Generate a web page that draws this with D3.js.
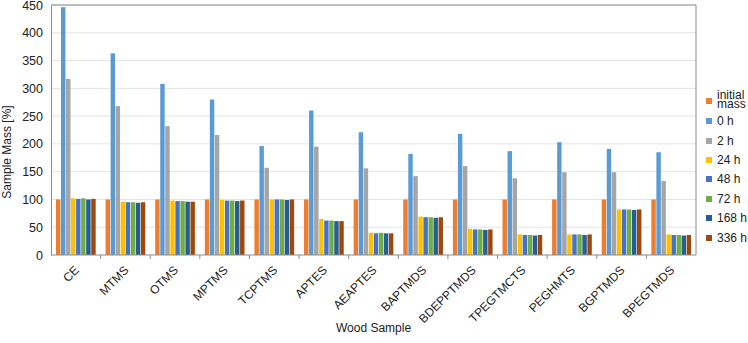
<!DOCTYPE html>
<html>
<head>
<meta charset="utf-8">
<script src="https://cdn.jsdelivr.net/npm/d3@7"></script>
<style>
  body { margin: 0; background: #fff; }
  svg { display: block; font-family: "Liberation Sans", Arial, sans-serif; }
</style>
</head>
<body>
<svg id="chart" width="748" height="343"></svg>
<script>
const samples = ["CE", "MTMS", "OTMS", "MPTMS", "TCPTMS", "APTES", "AEAPTES", "BAPTMDS",
  "BDEPPTMDS", "TPEGTMCTS", "PEGHMTS", "BGPTMDS", "BPEGTMDS"];
const seriesNames = ["initial mass", "0 h", "2 h", "24 h", "48 h", "72 h", "168 h", "336 h"];
const seriesColors = ["#ED7D31", "#5B9BD5", "#A5A5A5", "#FFC000", "#4472C4", "#70AD47", "#255E91", "#9E480E"];

const initialMass = [100, 100, 100, 100, 100, 100, 100, 100, 100, 100, 100, 100, 100];
const h0   = [446, 363, 308, 280, 196, 260, 221, 182, 218, 187, 203, 191, 185];
const h2   = [317, 268, 232, 216, 157, 195, 156, 142, 160, 138, 149, 149, 133];
const h24  = [102, 96, 98, 99, 100, 65, 40, 69, 47, 37, 37, 82, 37];
const h48  = [101, 95, 97, 98, 100, 62, 39, 68, 46, 36, 37, 82, 36];
const h72  = [102, 95, 97, 98, 100, 62, 40, 68, 46, 36, 37, 82, 36];
const h168 = [100, 94, 96, 97, 99, 61, 39, 67, 45, 35, 36, 81, 35];
const h336 = [101, 95, 96, 98, 100, 61, 39, 68, 46, 36, 37, 82, 36];
const yTicks = [0, 50, 100, 150, 200, 250, 300, 350, 400, 450];

const seriesValues = [initialMass, h0, h2, h24, h48, h72, h168, h336];

const svg = d3.select("#chart");
const margin = { top: 5, right: 52, bottom: 88, left: 51 };
const width = 748, height = 343;
const innerWidth = width - margin.left - margin.right;
const innerHeight = height - margin.top - margin.bottom;

const x0 = d3.scaleBand().domain(samples).range([0, innerWidth]).paddingInner(0.2).paddingOuter(0.1);
const x1 = d3.scaleBand().domain(seriesNames).range([0, x0.bandwidth()]).paddingInner(0.12);
const y = d3.scaleLinear().domain([0, 450]).range([innerHeight, 0]);

const g = svg.append("g").attr("transform", `translate(${margin.left},${margin.top})`);

// Gridlines
g.append("g")
  .selectAll("line")
  .data(yTicks.slice(1))
  .join("line")
  .attr("x1", 0).attr("x2", innerWidth)
  .attr("y1", d => y(d)).attr("y2", d => y(d))
  .attr("stroke", "#e3e3e3")
  .attr("stroke-width", 1);

// Bars
samples.forEach((s, i) => {
  g.append("g")
    .attr("transform", `translate(${x0(s)},0)`)
    .selectAll("rect")
    .data(seriesNames.map((n, k) => ({ n, v: seriesValues[k][i], c: seriesColors[k] })))
    .join("rect")
    .attr("x", d => x1(d.n))
    .attr("y", d => y(d.v))
    .attr("width", x1.bandwidth())
    .attr("height", d => innerHeight - y(d.v))
    .attr("fill", d => d.c);
});

// Plot border (top, right)
g.append("path")
  .attr("d", `M0,0H${innerWidth}V${innerHeight}`)
  .attr("fill", "none")
  .attr("stroke", "#8c8c8c");

// Y axis
g.append("g")
  .call(d3.axisLeft(y).tickValues(yTicks).tickSize(0).tickPadding(8))
  .call(a => a.select(".domain").attr("stroke", "#8c8c8c"))
  .call(a => a.selectAll("text").attr("font-size", "12.5px").attr("fill", "#222").attr("font-family", "Liberation Sans, Arial, sans-serif"));

// X axis: boundary ticks
const step = innerWidth / samples.length;
const xb = g.append("g").attr("transform", `translate(0,${innerHeight})`);
xb.append("line").attr("x1", 0).attr("x2", innerWidth).attr("stroke", "#8c8c8c");
xb.selectAll("line.tick")
  .data(d3.range(1, samples.length))
  .join("line")
  .attr("class", "tick")
  .attr("x1", i => i * step).attr("x2", i => i * step)
  .attr("y1", 0).attr("y2", 4)
  .attr("stroke", "#8c8c8c");

xb.selectAll("text")
  .data(samples)
  .join("text")
  .attr("transform", d => `translate(${x0(d) + x0.bandwidth() / 2 - 2},${10}) rotate(-45)`)
  .attr("text-anchor", "end")
  .attr("dy", "0.7em")
  .attr("font-size", "12px")
  .attr("fill", "#222")
  .text(d => d);

// Axis titles
svg.append("text")
  .attr("x", margin.left + innerWidth / 2)
  .attr("y", 332)
  .attr("text-anchor", "middle")
  .attr("font-size", "12px")
  .attr("fill", "#222")
  .text("Wood Sample");

svg.append("text")
  .attr("transform", `translate(11,152) rotate(-90)`)
  .attr("text-anchor", "middle")
  .attr("font-size", "12px")
  .attr("fill", "#222")
  .text("Sample Mass [%]");

// Legend
const legendY = [101, 121, 141, 160, 179, 199, 218, 238];
const legend = svg.append("g").attr("transform", "translate(706,0)");
seriesNames.forEach((n, k) => {
  const row = legend.append("g").attr("transform", `translate(0,${legendY[k]})`);
  row.append("rect").attr("x", 0).attr("y", -3).attr("width", 6).attr("height", 6).attr("fill", seriesColors[k]);
  if (n === "initial mass") {
    const t = row.append("text").attr("x", 11).attr("font-size", "12px").attr("fill", "#222");
    t.append("tspan").attr("x", 11).attr("y", -6).attr("dy", "0.35em").text("initial");
    t.append("tspan").attr("x", 11).attr("y", 3).attr("dy", "0.35em").text("mass");
  } else {
    row.append("text").attr("x", 11).attr("dy", "0.35em").attr("font-size", "12px").attr("fill", "#222").text(n);
  }
});
</script>
</body>
</html>
